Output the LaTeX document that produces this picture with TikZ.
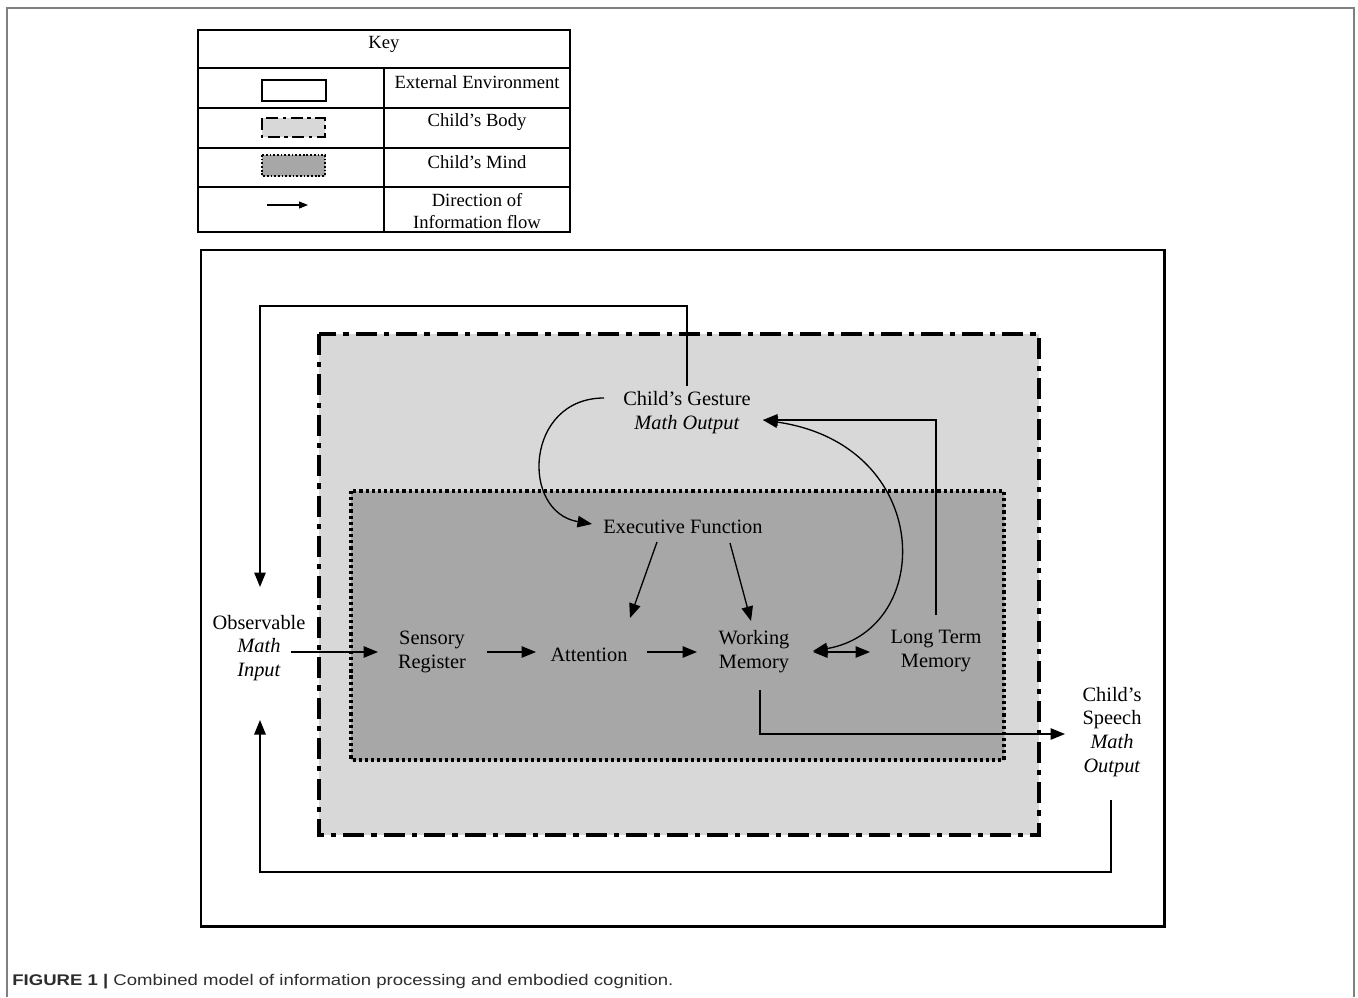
\documentclass[tikz,border=0pt]{standalone}
\usepackage{fontspec}
\setmainfont{Liberation Serif}
\newfontfamily\capfont[FakeStretch = 1.2]{Liberation Sans}
\usepackage{tikz}
\usetikzlibrary{arrows.meta}
\usetikzlibrary{calc, shadows}
\definecolor{bodygray}{RGB}{216, 216, 216}
\definecolor{mindgray}{RGB}{167, 167, 167}
\definecolor{capgray}{RGB}{45, 45, 45}
\tikzset{
environment/.style = { draw = black, line width = 1.7pt },
body/.style = { draw = black, fill = bodygray, line width = 1.9pt, dash pattern = on 12pt off 4pt on 3pt off 4pt },
mind/.style = { draw = black, fill = mindgray, line width = 2pt, dash pattern = on 1.8pt off 1.7pt, drop shadow = {shadow xshift = 0.6pt, shadow yshift = -0.6pt, opacity = 0.25} },
stage/.style = { align = center, font = \fontsize{11.6}{13.6}\selectfont },
keytext/.style = { align = center, font = \fontsize{10.6}{12.5}\selectfont },
flow/.style = { -{Triangle[length = 2.9mm, width = 2.3mm]}, line width = 0.75pt },
twoway/.style = { {Triangle[length = 2.9mm, width = 2.3mm]}-{Triangle[length = 2.9mm, width = 2.3mm]}, line width = 0.75pt },
}

\begin{document}
\begin{tikzpicture}[x = 0.02cm, y = -0.02cm]
    \useasboundingbox (0, 0) rectangle (1358, 997);
    \draw[gray, line width = 1pt] (7, 997) -- (7, 8) -- (1354, 8) -- (1354, 997);
    % key
    \draw[line width = 0.7pt] (198, 30) rectangle (570, 232);
    \foreach \y in {68, 108, 148, 187} \draw[line width = 0.7pt] (198, \y) -- (570, \y);
    \draw[line width = 0.7pt] (384, 68) -- (384, 232);
    \node[keytext] (keytitle) at (384, 44) {Key};
    \node[keytext] (keyenv) at (477, 82) {External Environment};
    \node[keytext] (keybody) at (477, 122) {Child's Body};
    \node[keytext] (keymind) at (477, 162) {Child's Mind};
    \node[keytext] (keyflow) at (477, 211) {Direction of\\Information flow};
    \draw[line width = 1.1pt] (262, 80) rectangle (326, 101);
    \draw[body, line width = 1.1pt, dash pattern = on 7pt off 2.5pt on 2pt off 2.5pt] (262, 118) rectangle (325, 137);
    \draw[mind, line width = 1.1pt, dash pattern = on 1pt off 1.1pt] (262, 155) rectangle (325, 176);
    \draw[line width = 0.7pt, -{Triangle[length = 1.8mm, width = 1.4mm]}] (267, 205) -- (308, 205);
    % environment, body, mind
    \draw[environment] (201, 250) rectangle (1164, 926);
    \draw[body] (319, 334) rectangle (1039, 835);
    \draw[mind] (351, 491) rectangle (1004, 760);
    % stages
    \node[stage] (gesture) at (687, 413) {Child's Gesture\\\textit{Math Output}};
    \node[stage] (exec) at (683, 527) {Executive Function};
    \node[stage] (observe) at (259, 648) {Observable\\\textit{Math}\\\textit{Input}};
    \node[stage] (sensory) at (432, 652) {Sensory\\Register};
    \node[stage] (attention) at (589, 655) {Attention};
    \node[stage] (working) at (754, 652) {Working\\Memory};
    \node[stage] (longterm) at (936, 651) {Long Term\\Memory};
    \node[stage] (speech) at (1112, 732) {Child's\\Speech\\\textit{Math}\\\textit{Output}};
    % information flow
    \draw[flow] ($(observe) + (32, 4)$) -- ($(sensory) + (-54, 0)$);
    \draw[flow] ($(sensory) + (55, 0)$) -- ($(attention) + (-53, -3)$);
    \draw[flow] ($(attention) + (58, -3)$) -- ($(working) + (-57, 0)$);
    \draw[twoway] ($(working) + (59, 0)$) -- ($(longterm) + (-66, 1)$);
    \draw[flow] ($(exec) + (-26, 15)$) -- ($(attention) + (41, -37)$);
    \draw[flow] ($(exec) + (47, 16)$) -- ($(working) + (-3, -31)$);
    \draw[flow] ($(gesture) + (-83, -15)$) .. controls +(-79, 0) and +(-72, -12) .. ($(exec) + (-91, -3)$);
    \draw[twoway] ($(working) + (59, -1)$) .. controls +(122, -21) and +(172, 25) .. ($(gesture) + (76, 7)$);
    \draw[flow] ($(longterm) + (0, -36)$) |- ($(gesture) + (76, 7)$);
    \draw[flow] ($(working) + (6, 38)$) |- ($(speech) + (-47, 2)$);
    \draw[flow] ($(gesture) + (0, -27)$) -- ++(0, -80) -| ($(observe) + (1, -61)$);
    \draw[flow] ($(speech) + (-1, 68)$) -- ++(0, 72) -| ($(observe) + (1, 72)$);
    % caption
    \node[anchor = base west, inner sep = 0pt, text = capgray, font = \capfont\fontsize{8.8}{10.5}\selectfont] (caption) at (12, 985) {\textbf{FIGURE 1 |} Combined model of information processing and embodied cognition.};
\end{tikzpicture}
\end{document}
